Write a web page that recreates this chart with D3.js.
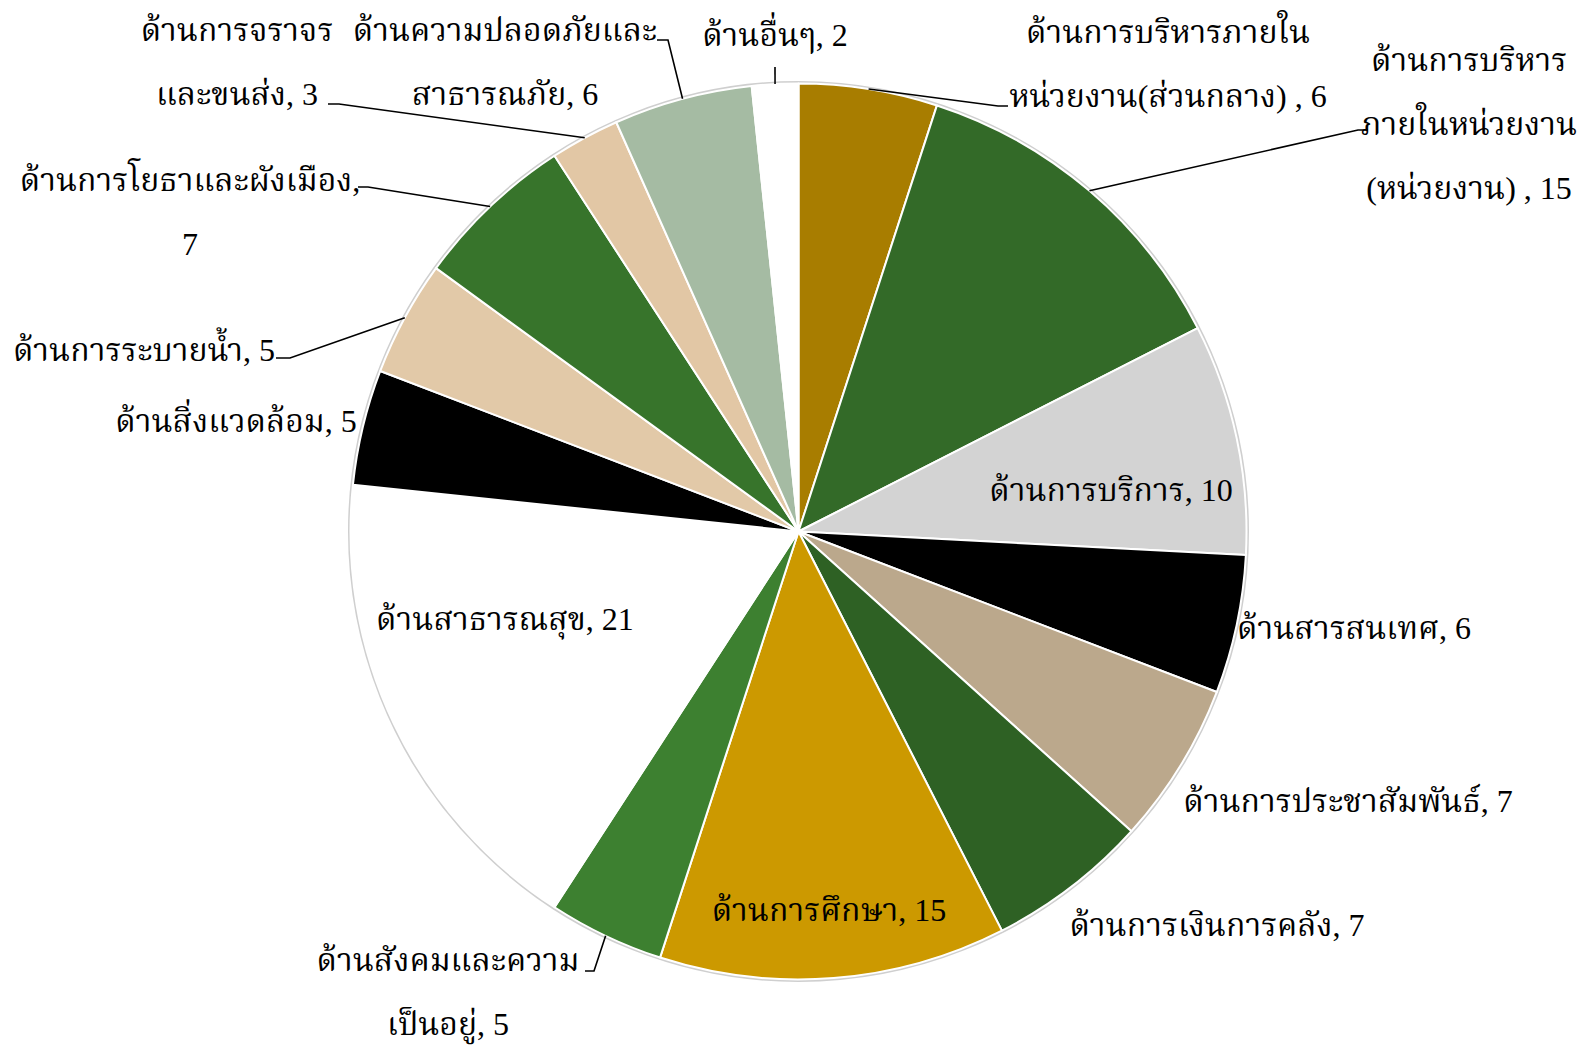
<!DOCTYPE html>
<html>
<head>
<meta charset="utf-8">
<script src="https://cdn.jsdelivr.net/npm/d3@7/dist/d3.min.js"></script>
<style>
  html, body { margin: 0; padding: 0; background: #ffffff; }
  svg { display: block; }
  text { font-family: "Liberation Serif", "Times New Roman", "Noto Serif Thai", "Noto Sans Thai", serif; font-size: 32px; fill: #000; }
</style>
</head>
<body>
<svg id="chart" width="1595" height="1050"></svg>
<script>
// ---- data ----
const categories = [
  "ด้านการบริหารภายในหน่วยงาน(ส่วนกลาง)",
  "ด้านการบริหารภายในหน่วยงาน(หน่วยงาน)",
  "ด้านการบริการ",
  "ด้านสารสนเทศ",
  "ด้านการประชาสัมพันธ์",
  "ด้านการเงินการคลัง",
  "ด้านการศึกษา",
  "ด้านสังคมและความเป็นอยู่",
  "ด้านสาธารณสุข",
  "ด้านสิ่งแวดล้อม",
  "ด้านการระบายน้ำ",
  "ด้านการโยธาและผังเมือง",
  "ด้านการจราจรและขนส่ง",
  "ด้านความปลอดภัยและสาธารณภัย",
  "ด้านอื่นๆ"
];
const values = [6, 15, 10, 6, 7, 7, 15, 5, 21, 5, 5, 7, 3, 6, 2];
// label text as displayed (line breaks)
const labelLines = [
  ["ด้านการบริหารภายใน", "หน่วยงาน(ส่วนกลาง) , 6"],
  ["ด้านการบริหาร", "ภายในหน่วยงาน", "(หน่วยงาน) , 15"],
  ["ด้านการบริการ, 10"],
  ["ด้านสารสนเทศ, 6"],
  ["ด้านการประชาสัมพันธ์, 7"],
  ["ด้านการเงินการคลัง, 7"],
  ["ด้านการศึกษา, 15"],
  ["ด้านสังคมและความ", "เป็นอยู่, 5"],
  ["ด้านสาธารณสุข, 21"],
  ["ด้านสิ่งแวดล้อม, 5"],
  ["ด้านการระบายน้ำ, 5"],
  ["ด้านการโยธาและผังเมือง,", "7"],
  ["ด้านการจราจร", "และขนส่ง, 3"],
  ["ด้านความปลอดภัยและ", "สาธารณภัย, 6"],
  ["ด้านอื่นๆ, 2"]
];
const colors = [
  "#a87d00", "#336a28", "#d3d3d3", "#000000", "#bba88c",
  "#2e6124", "#cc9900", "#3d8030", "#ffffff", "#000000",
  "#e2c9a8", "#37742b", "#e2c7a5", "#a5bba3", "#ffffff"
];

// ---- layout (positions of labels / leader elbows) ----
const cx = 798.5, cy = 531.5, R = 448;
const labelLayout = [
  { x: 1168, y: 43,  leader: [[998, 106], [1008, 106]] },
  { x: 1469, y: 71,  leader: [[1358, 130], [1368, 130]] },
  { x: 1111, y: 501, leader: null },
  { x: 1354, y: 639, leader: null },
  { x: 1348, y: 812, leader: null },
  { x: 1217, y: 936, leader: null },
  { x: 829,  y: 921, leader: null },
  { x: 448,  y: 971, leader: [[594, 971], [585, 971]] },
  { x: 505,  y: 630, leader: null },
  { x: 236,  y: 432, leader: null },
  { x: 144,  y: 361, leader: [[290, 358], [276, 358]] },
  { x: 190,  y: 191, leader: [[368, 187], [358, 187]] },
  { x: 237,  y: 41,  leader: [[339, 104], [328, 104]] },
  { x: 505,  y: 41,  leader: [[668, 40], [657, 40]] },
  { x: 775,  y: 46,  leader: [[775, 67]] }
];
const lineGap = 64;

const data = categories.map((c, i) => ({ name: c, value: values[i], color: colors[i], lines: labelLines[i], lay: labelLayout[i] }));

const svg = d3.select("#chart");
const g = svg.append("g").attr("transform", `translate(${cx},${cy})`);

const pie = d3.pie().value(d => d.value).sort(null);
const arc = d3.arc().innerRadius(0).outerRadius(R);
const arcs = pie(data);

// outer soft border
g.append("circle").attr("r", R + 1).attr("fill", "none").attr("stroke", "#cfcfcf").attr("stroke-width", 3);

g.selectAll("path.slice").data(arcs).join("path")
  .attr("class", "slice")
  .attr("d", arc)
  .attr("fill", d => d.data.color)
  .attr("stroke", "#ffffff")
  .attr("stroke-width", 2)
  .attr("stroke-linejoin", "round");

// leader lines
arcs.forEach(a => {
  const lay = a.data.lay;
  if (!lay.leader) return;
  const mid = (a.startAngle + a.endAngle) / 2;
  const start = [cx + R * Math.sin(mid), cy - R * Math.cos(mid)];
  const pts = [start].concat(lay.leader);
  svg.append("path")
    .attr("d", d3.line()(pts))
    .attr("fill", "none")
    .attr("stroke", "#000")
    .attr("stroke-width", 1.6);
});

// labels
arcs.forEach(a => {
  const lay = a.data.lay;
  const t = svg.append("text").attr("text-anchor", "middle");
  a.data.lines.forEach((ln, j) => {
    t.append("tspan").attr("x", lay.x).attr("y", lay.y + j * lineGap).text(ln);
  });
});
</script>
</body>
</html>
